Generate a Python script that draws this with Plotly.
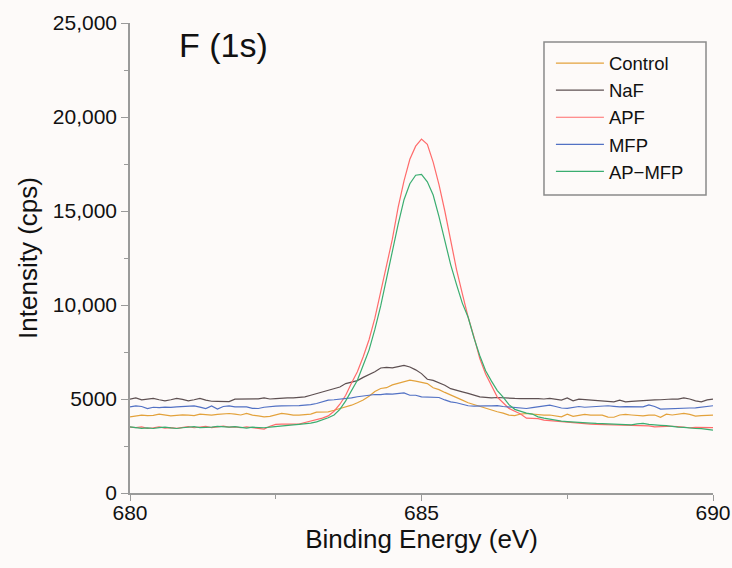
import plotly.graph_objects as go

# Binding energy grid (eV), 0.1 eV steps
energy = [round(680 + 0.1 * i, 1) for i in range(101)]

control = [4050, 4100, 4140, 4120, 4130, 4190, 4150, 4100, 4130, 4160,
           4140, 4120, 4190, 4150, 4140, 4180, 4200, 4230, 4200, 4150,
           4230, 4140, 4100, 4050, 4080, 4150, 4230, 4200, 4140, 4140,
           4150, 4200, 4300, 4310, 4320, 4400, 4480, 4600, 4670, 4800,
           4950, 5150, 5400, 5560, 5600, 5750, 5820, 5900, 6000, 5950,
           5900, 5820, 5600, 5500, 5350, 5200, 5050, 4940, 4800, 4700,
           4600, 4480, 4400, 4320, 4250, 4140, 4120, 4200, 4230, 4200,
           4140, 4140, 4150, 4100, 4050, 4190, 4080, 4130, 4180, 4140,
           4150, 4140, 4040, 4030, 4150, 4180, 4150, 4140, 4100, 4140,
           4150, 4030, 4190, 4150, 4200, 4230, 4180, 4090, 4120, 4140,
           4140]

naf = [4990, 5060, 4950, 4990, 5030, 4960, 4900, 4960, 5030, 4980,
       4900, 4960, 5030, 4940, 4880, 4870, 4850, 4860, 4990, 4990,
       4990, 4980, 5010, 5060, 5000, 5020, 5050, 5060, 5060, 5080,
       5110, 5200, 5280, 5380, 5450, 5560, 5640, 5820, 5900, 5980,
       6150, 6300, 6450, 6650, 6680, 6660, 6720, 6790, 6700, 6550,
       6350, 6050, 5990, 5880, 5730, 5550, 5450, 5380, 5300, 5200,
       5110, 5090, 5060, 5080, 5050, 5030, 5030, 5020, 5040, 5025,
       5025, 5000, 5030, 4980, 4940, 5060, 4900, 4990, 4960, 4930,
       4920, 4900, 4880, 4850, 4940, 4850, 4870, 4900, 4930, 4960,
       4950, 4960, 4990, 5000, 4990, 5060, 5000, 4900, 4850, 4950,
       4990]

apf = [3500, 3480, 3520, 3440, 3470, 3520, 3450, 3480, 3440, 3500,
       3530, 3470, 3510, 3540, 3480, 3520, 3560, 3500, 3520, 3470,
       3520, 3480, 3430, 3400, 3550, 3650, 3660, 3650, 3680, 3660,
       3750, 3820, 3900, 3980, 4100, 4350, 4720, 5200, 5850, 6450,
       7250, 8150, 9300, 10700, 12000, 13500, 15200, 16600, 17750, 18450,
       18830, 18550, 17600, 16400, 15000, 13400, 11900, 10600, 9350, 8300,
       7150, 6330, 5700, 5100, 4800, 4500, 4350, 4200, 3980, 3950,
       3960, 3880, 3850, 3820, 3790, 3780, 3720, 3700, 3680, 3660,
       3645, 3640, 3630, 3635, 3610, 3600, 3620, 3590, 3580, 3570,
       3520, 3540, 3560, 3550, 3530, 3500, 3470, 3490, 3480, 3470,
       3480]

mfp = [4580, 4635, 4600, 4490, 4560, 4540, 4570, 4550, 4580, 4600,
       4620, 4635, 4570, 4490, 4630, 4460, 4600, 4630, 4580, 4560,
       4580, 4500, 4495, 4560, 4600, 4620, 4635, 4620, 4640, 4650,
       4660, 4705, 4760, 4850, 4936, 4960, 4990, 5000, 5060, 5120,
       5160, 5200, 5240, 5230, 5270, 5260, 5300, 5325, 5200, 5200,
       5110, 5110, 5110, 5080, 4950, 4850, 4800, 4720, 4640, 4620,
       4640, 4635, 4635, 4650, 4600, 4580, 4560, 4520, 4495, 4540,
       4580, 4620, 4670, 4600, 4520, 4500, 4560, 4600, 4560, 4580,
       4620, 4650, 4640, 4610, 4580, 4590, 4580, 4560, 4580, 4690,
       4600, 4460, 4480, 4500, 4520, 4540, 4520, 4530, 4560, 4600,
       4640]

ap_mfp = [3520, 3470, 3440, 3460, 3430, 3480, 3500, 3460, 3430, 3470,
          3510, 3530, 3480, 3470, 3500, 3540, 3520, 3500, 3530, 3490,
          3450, 3500, 3480, 3470, 3500, 3540, 3560, 3580, 3620, 3650,
          3680, 3720, 3780, 3880, 4000, 4150, 4450, 4900, 5450, 6000,
          6800, 7600, 8700, 9950, 11400, 12900, 14300, 15600, 16450, 16900,
          16950, 16550, 15850, 14700, 13400, 12150, 11100, 10100, 9350, 8250,
          7300, 6500, 5950, 5450, 5100, 4700, 4450, 4350, 4250, 4200,
          4050, 3980, 3920, 3850, 3820, 3800, 3790, 3760, 3740, 3720,
          3700, 3690, 3670, 3650, 3640, 3660, 3620, 3680, 3700, 3650,
          3610, 3600, 3580, 3530, 3500, 3490, 3450, 3430, 3420, 3380,
          3345]

series_names = ["Control", "NaF", "APF", "MFP", "AP\u2212MFP"]
series_values = [control, naf, apf, mfp, ap_mfp]
series_colors = ["#e3a23c", "#5e5052", "#ff6b6b", "#5271c4", "#3aad70"]

x_tickvals = [680, 685, 690]
x_ticktext = ["680", "685", "690"]
y_tickvals = [0, 5000, 10000, 15000, 20000, 25000]
y_ticktext = ["0", "5000", "10,000", "15,000", "20,000", "25,000"]

BG = "#fdfaf9"
AXIS = "#9a9a9a"
FONT = "Liberation Sans, Arial, sans-serif"
TXT = "#111111"

fig = go.Figure()
for name, vals, col in zip(series_names, series_values, series_colors):
    fig.add_trace(go.Scatter(x=energy, y=vals, mode="lines", name=name,
                             line=dict(color=col, width=1.2)))

fig.update_layout(
    width=732, height=568,
    margin=dict(l=130, r=19, t=23, b=75),
    paper_bgcolor=BG, plot_bgcolor=BG,
    font=dict(family=FONT, color=TXT),
    showlegend=True,
    legend=dict(x=0.722, y=0.954, xanchor="left", yanchor="top",
                bgcolor="rgba(0,0,0,0)", borderwidth=0,
                font=dict(size=18.5, family=FONT, color=TXT),
                itemwidth=48),
    shapes=[dict(type="rect", xref="paper", yref="paper",
                 x0=0.7101, x1=0.988, y0=0.634, y1=0.9596,
                 line=dict(color="#8a8a8a", width=1.5), fillcolor="rgba(0,0,0,0)",
                 layer="above")],
    annotations=[dict(text="F (1s)", x=0.081, y=0.953, xref="paper", yref="paper",
                      xanchor="left", yanchor="middle", showarrow=False,
                      font=dict(size=34, family=FONT, color=TXT))],
)

fig.update_xaxes(range=[680, 690], tickvals=x_tickvals, ticktext=x_ticktext,
                 automargin=False,
                 showgrid=False, zeroline=False, showline=True, linecolor=AXIS, linewidth=1.5,
                 ticks="outside", ticklen=6, tickcolor=AXIS, tickwidth=1.2,
                 ticklabelstandoff=-6,
                 minor=dict(dtick=2.5, tick0=680, ticks="outside", ticklen=4, tickcolor=AXIS, tickwidth=1.2),
                 tickfont=dict(size=21, family=FONT, color=TXT),
                 title=dict(text="Binding Energy (eV)", font=dict(size=26, family=FONT, color=TXT), standoff=2))
fig.update_yaxes(range=[0, 25000], tickvals=y_tickvals, ticktext=y_ticktext,
                 automargin=False,
                 showgrid=False, zeroline=False, showline=True, linecolor=AXIS, linewidth=1.5,
                 ticks="outside", ticklen=7, tickcolor=AXIS, tickwidth=1.2,
                 minor=dict(dtick=2500, tick0=0, ticks="outside", ticklen=4, tickcolor=AXIS, tickwidth=1.2),
                 tickfont=dict(size=21, family=FONT, color=TXT),
                 title=dict(text="Intensity (cps)", font=dict(size=26, family=FONT, color=TXT), standoff=8))

fig.write_html("out.html", config={"displayModeBar": False},
               post_script="document.body.style.margin='0px';")
